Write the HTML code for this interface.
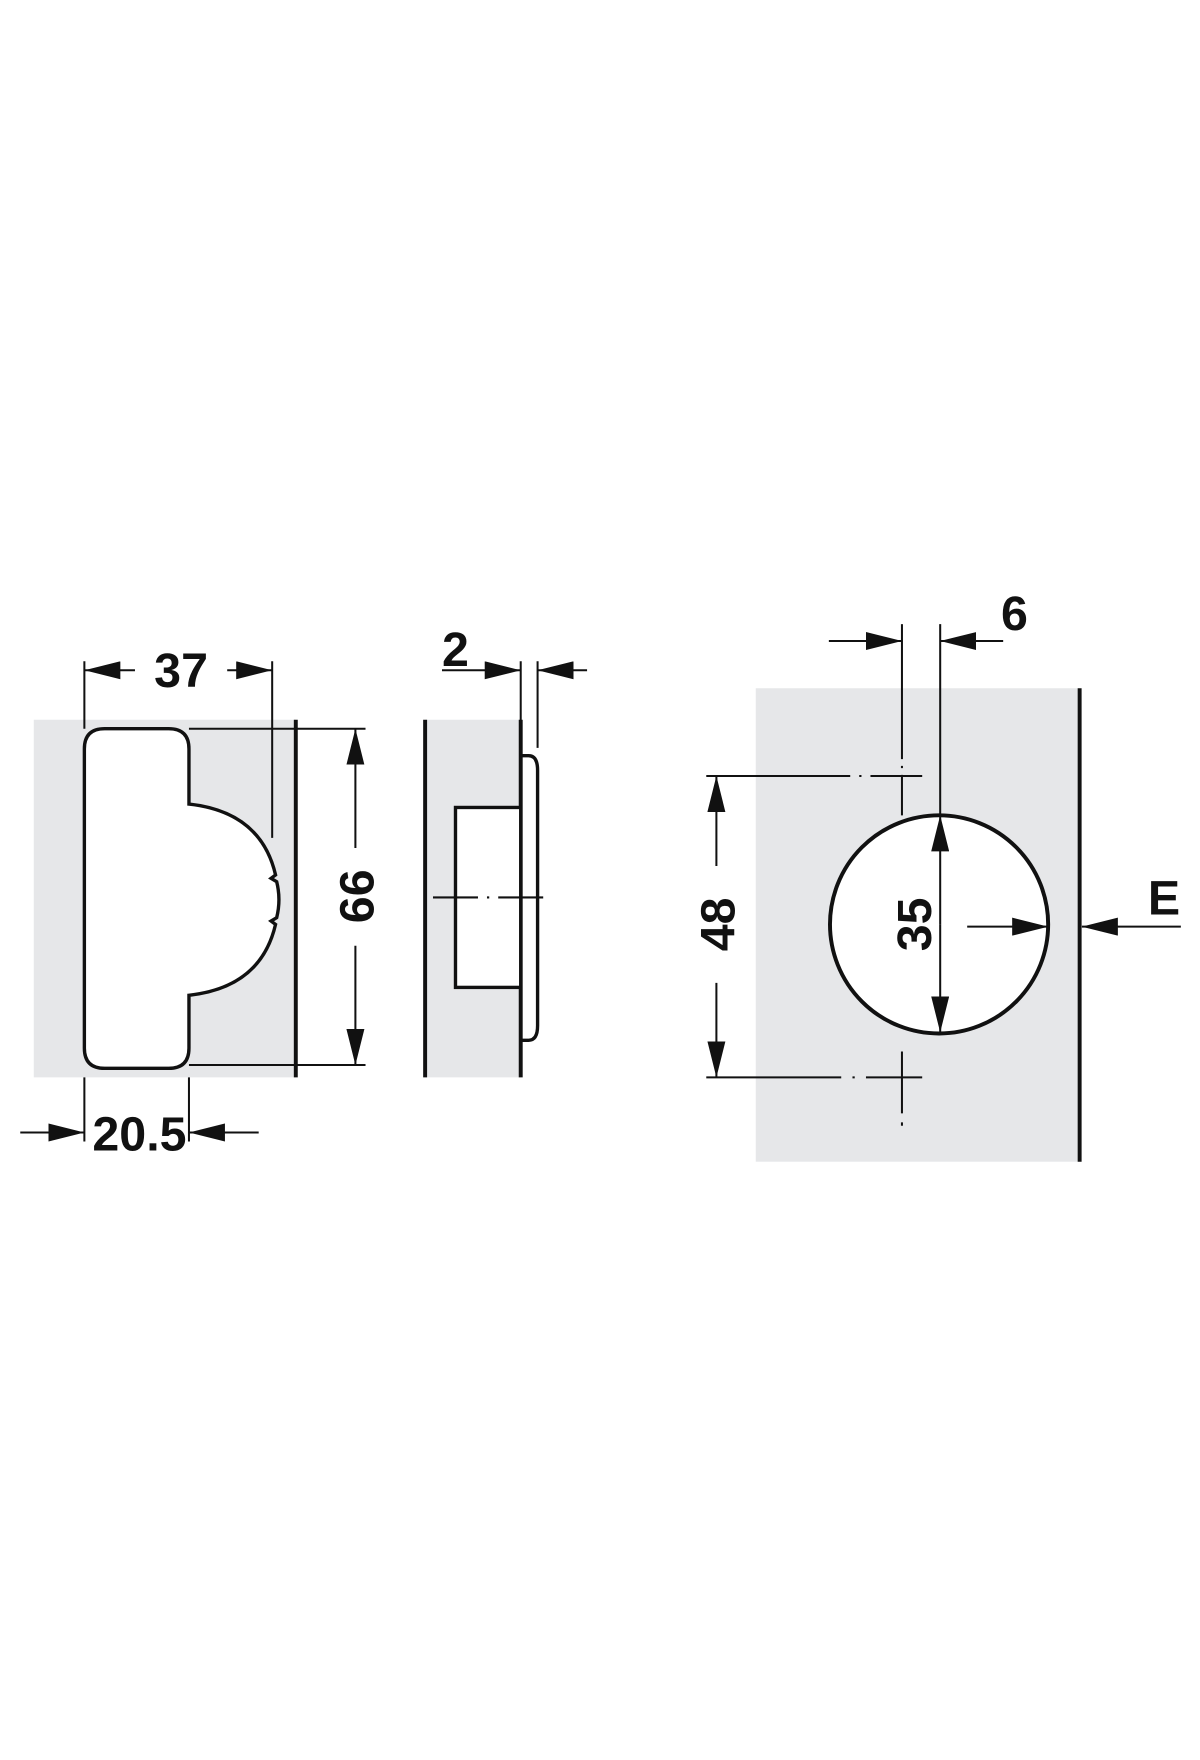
<!DOCTYPE html>
<html><head><style>html,body{margin:0;padding:0;background:#fff}svg{display:block}</style></head><body>
<svg width="1200" height="1760" viewBox="0 0 1067 1565" xmlns="http://www.w3.org/2000/svg">
<defs>
<marker id="a" viewBox="0 0 32 16" refX="32" refY="8" markerWidth="32" markerHeight="16" markerUnits="userSpaceOnUse" orient="auto"><path d="M0,0 L32,8 L0,16 Z" fill="#111"/></marker>
</defs>
<g fill="#e6e7e9">
<rect x="30" y="640" width="233" height="318"/>
<rect x="378" y="640" width="85" height="318"/>
<rect x="672" y="612" width="288" height="421"/>
</g>
<g stroke="#111" fill="none" stroke-width="3">
<path d="M93,648 H150 Q168,648 168,666 V715 Q232,722 245,778 L241,781 L246,784 Q250,800 246,816 L241,819 L245,822 Q232,878 168,885 V932 Q168,950 150,950 H93 Q75,950 75,932 V666 Q75,648 93,648 Z" fill="#fff"/>
<line x1="263" y1="640" x2="263" y2="958" stroke-width="3.5"/>
<line x1="378" y1="640" x2="378" y2="958" stroke-width="3.5"/>
<line x1="463" y1="640" x2="463" y2="958" stroke-width="3.5"/>
<rect x="405" y="718" width="58" height="160" fill="#fff"/>
<path d="M463,672 H470 Q478,672 478,685 V912 Q478,925 470,925 H463"/>
<line x1="960" y1="612" x2="960" y2="1033" stroke-width="3.5"/>
<circle cx="835" cy="822" r="97" fill="#fff" stroke-width="3.5"/>
</g>
<g stroke="#111" fill="none" stroke-width="1.8">
<line x1="75" y1="588" x2="75" y2="648"/><line x1="242" y1="588" x2="242" y2="745"/>
<line x1="120" y1="596" x2="75" y2="596" marker-end="url(#a)"/><line x1="202" y1="596" x2="242" y2="596" marker-end="url(#a)"/>
<line x1="168" y1="648" x2="325" y2="648"/><line x1="168" y1="947" x2="325" y2="947"/>
<line x1="316" y1="754" x2="316" y2="648" marker-end="url(#a)"/><line x1="316" y1="841" x2="316" y2="947" marker-end="url(#a)"/>
<line x1="75" y1="958" x2="75" y2="1015"/><line x1="168" y1="958" x2="168" y2="1015"/>
<line x1="18" y1="1007" x2="75" y2="1007" marker-end="url(#a)"/><line x1="230" y1="1007" x2="168" y2="1007" marker-end="url(#a)"/>
<line x1="463" y1="588" x2="463" y2="665"/><line x1="478" y1="588" x2="478" y2="665"/>
<line x1="393" y1="596" x2="463" y2="596" marker-end="url(#a)"/><line x1="522" y1="596" x2="478" y2="596" marker-end="url(#a)"/>
<line x1="385" y1="798" x2="485" y2="798" stroke-dasharray="40,8,2,8"/>
<line x1="802" y1="555" x2="802" y2="725" stroke-dasharray="120,6,2,6"/><line x1="836" y1="555" x2="836" y2="725"/>
<line x1="737" y1="570" x2="802" y2="570" marker-end="url(#a)"/><line x1="892" y1="570" x2="836" y2="570" marker-end="url(#a)"/>
<line x1="628" y1="690" x2="820" y2="690" stroke-dasharray="128,8,2,8,200"/>
<line x1="628" y1="958" x2="820" y2="958" stroke-dasharray="120,10,2,10,200"/>
<line x1="802" y1="935" x2="802" y2="990"/><line x1="802" y1="998" x2="802" y2="1001"/>
<line x1="637" y1="770" x2="637" y2="690" marker-end="url(#a)"/><line x1="637" y1="874" x2="637" y2="958" marker-end="url(#a)"/>
<line x1="836" y1="822" x2="836" y2="725" marker-end="url(#a)"/><line x1="836" y1="822" x2="836" y2="918" marker-end="url(#a)"/>
<line x1="860" y1="824" x2="932" y2="824" marker-end="url(#a)"/>
<line x1="1050" y1="824" x2="962" y2="824" marker-end="url(#a)"/>
</g>
<g font-family="Liberation Sans, sans-serif" font-weight="bold" font-size="43" fill="#111" text-anchor="middle">
<text x="161" y="611">37</text>
<text x="124" y="1023">20.5</text>
<text x="405" y="592">2</text>
<text x="902" y="560">6</text>
<text x="1035" y="813">E</text>
<text transform="translate(332,797) rotate(-90)">66</text>
<text transform="translate(653,822) rotate(-90)">48</text>
<text transform="translate(828,822) rotate(-90)">35</text>
</g>
</svg>
</body></html>
